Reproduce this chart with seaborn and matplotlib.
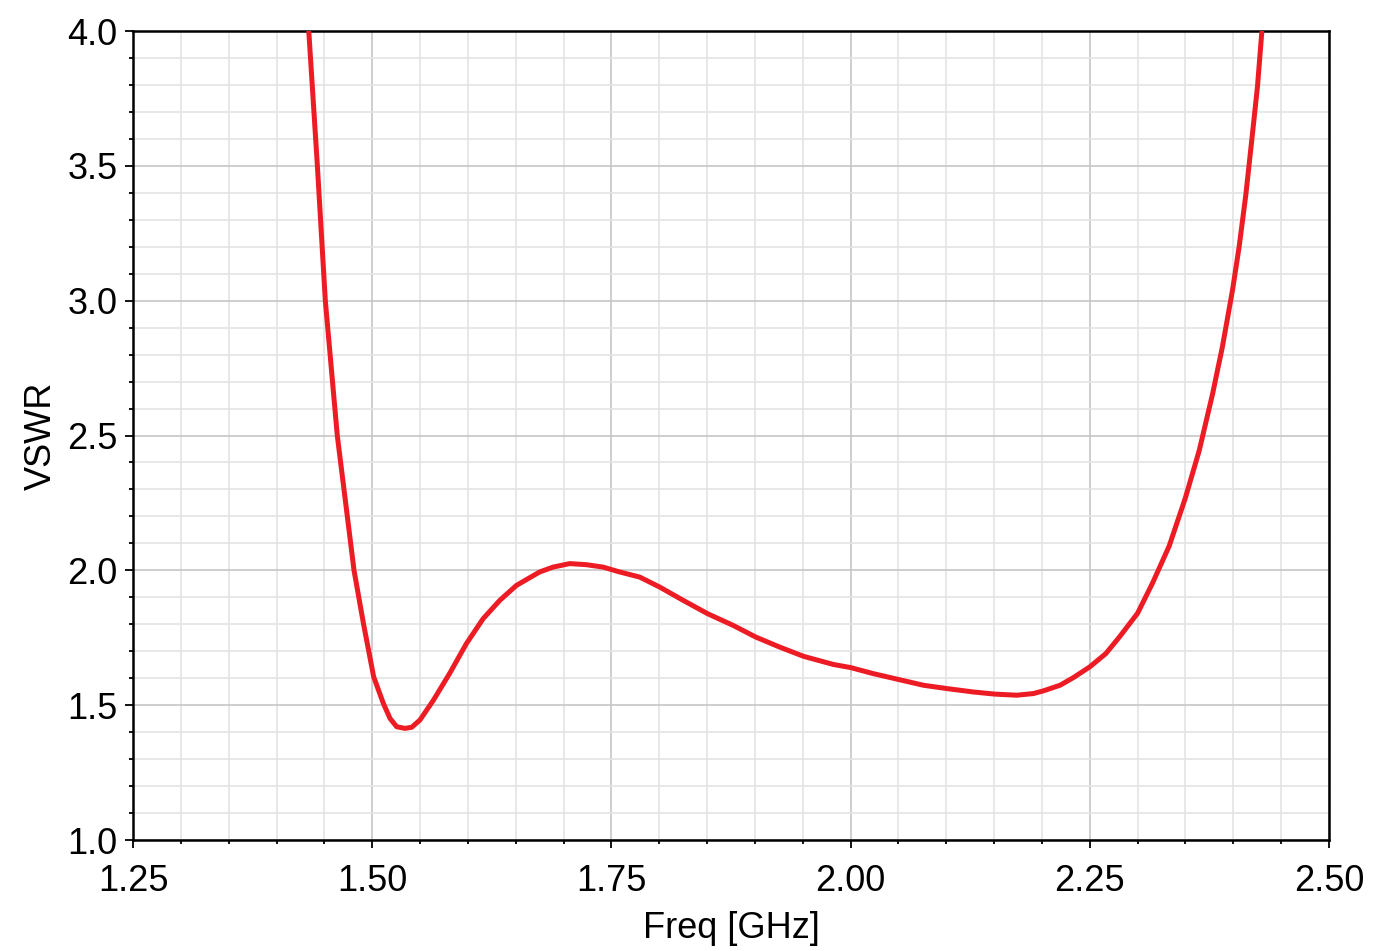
import numpy as np
import pandas as pd
import matplotlib
matplotlib.use("Agg")
import matplotlib.pyplot as plt
import matplotlib.ticker as mticker
import seaborn as sns

# --- data ---
freq_ghz = [1.4337, 1.4427, 1.451, 1.4635, 1.481, 1.491, 1.5015, 1.5116, 1.5186,
            1.5256, 1.5343, 1.5413, 1.5499, 1.5639, 1.5813, 1.5984, 1.6159, 1.6333,
            1.6507, 1.675, 1.689, 1.7064, 1.7239, 1.7413, 1.7587, 1.7796, 1.8005,
            1.8249, 1.8507, 1.8772, 1.901, 1.926, 1.951, 1.982, 2.0, 2.0237, 2.0505,
            2.076, 2.1004, 2.1282, 2.151, 2.1737, 2.191, 2.2014, 2.219, 2.233, 2.25,
            2.2667, 2.2809, 2.30, 2.3157, 2.333, 2.3498, 2.3644, 2.3783, 2.3887,
            2.3992, 2.4061, 2.4131, 2.420, 2.4253, 2.4298]
vswr = [4.0, 3.5, 3.0, 2.5, 2.0, 1.8, 1.6056, 1.507, 1.451,
        1.42, 1.414, 1.418, 1.445, 1.518, 1.62, 1.728, 1.8205, 1.8886,
        1.944, 1.994, 2.012, 2.025, 2.021, 2.012, 1.994, 1.975, 1.938,
        1.889, 1.839, 1.796, 1.7525, 1.7153, 1.681, 1.651, 1.6395, 1.617, 1.595,
        1.574, 1.5617, 1.549, 1.541, 1.537, 1.543, 1.553, 1.574, 1.6025, 1.642,
        1.691, 1.7524, 1.841, 1.9534, 2.090, 2.267, 2.444, 2.653, 2.830,
        3.039, 3.199, 3.392, 3.617, 3.794, 3.995]

x_ticks = [1.25, 1.50, 1.75, 2.00, 2.25, 2.50]
y_ticks = [1.0, 1.5, 2.0, 2.5, 3.0, 3.5, 4.0]

df = pd.DataFrame({"Freq": freq_ghz, "VSWR": vswr})

sns.set_theme(style="white")
plt.rcParams['font.family'] = ['Liberation Sans', 'DejaVu Sans']

fig = plt.figure(figsize=(13.77, 9.51), dpi=100)
ax = fig.add_axes([0.0966, 0.1167, 0.8685, 0.8507])

sns.lineplot(data=df, x="Freq", y="VSWR", ax=ax, color="#ED1C24",
             linewidth=3.6, sort=False, zorder=3)

ax.set_xlim(1.25, 2.50)
ax.set_ylim(1.0, 4.0)
ax.set_xticks(x_ticks)
ax.set_yticks(y_ticks)
ax.xaxis.set_major_formatter(mticker.FormatStrFormatter("%.2f"))
ax.yaxis.set_major_formatter(mticker.FormatStrFormatter("%.1f"))
ax.xaxis.set_minor_locator(mticker.MultipleLocator(0.05))
ax.yaxis.set_minor_locator(mticker.MultipleLocator(0.1))

# grid
ax.grid(which="minor", color="#E4E4E4", linewidth=1.2, zorder=0)
ax.grid(which="major", color="#C6C6C6", linewidth=1.2, zorder=1)
ax.set_axisbelow(True)

# spines + ticks
for s in ax.spines.values():
    s.set_color("black")
    s.set_linewidth(1.8)
ax.tick_params(which="major", direction="out", length=6, width=1.3,
               color="black", labelsize=26, labelcolor="black",
               left=True, bottom=True, top=False, right=False)
ax.tick_params(axis="x", which="major", pad=11)
ax.tick_params(axis="y", which="major", pad=5)
ax.tick_params(which="minor", direction="out", length=3, width=1.3,
               color="black", left=True, bottom=True, top=False, right=False)

ax.set_xlabel("Freq [GHz]", fontsize=26, color="black", labelpad=9)
ax.set_ylabel("VSWR", fontsize=26, color="black", labelpad=6)

fig.savefig("out.png", dpi=100)
